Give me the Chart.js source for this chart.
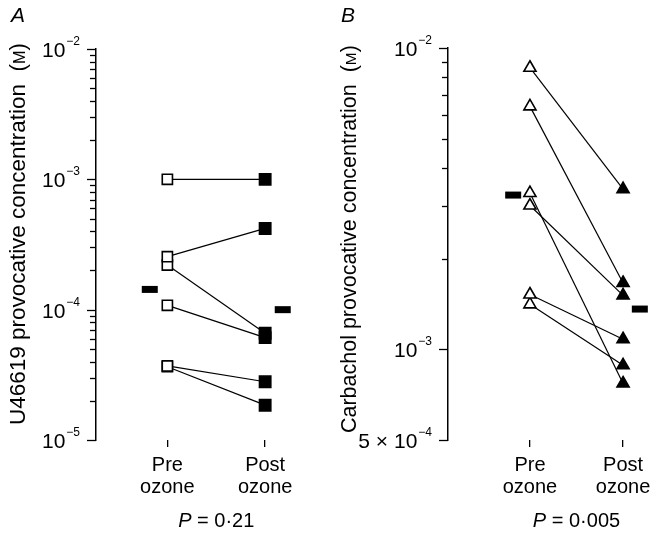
<!DOCTYPE html>
<html>
<head>
<meta charset="utf-8">
<script src="https://cdn.jsdelivr.net/npm/chart.js@4.4.1/dist/chart.umd.min.js"></script>
<style>
  body { margin: 0; background: #fff; }
  #wrap { position: relative; width: 666px; height: 540px; }
  #chartA { position: absolute; left: 0; top: 0; }
  #chartB { position: absolute; left: 330px; top: 0; }
</style>
</head>
<body>
<div id="wrap">
  <canvas id="chartA" width="330" height="540"></canvas>
  <canvas id="chartB" width="336" height="540"></canvas>
</div>
<script>
// x categories
const xLabels = [["Pre", "ozone"], ["Post", "ozone"]];

// Panel A: U46619 (M), one pair per animal
const u46619Pre = [1.0e-3, 2.55e-4, 2.2e-4, 1.08e-4, 3.7e-5, 3.65e-5];
const u46619Post = [1.0e-3, 4.2e-4, 6.6e-5, 6.1e-5, 2.8e-5, 1.85e-5];
const u46619Mean = [1.43e-4, 1.0e-4];

// Panel B: carbachol (M)
const carbPre = [8.6e-3, 6.4e-3, 3.3e-3, 3.0e-3, 1.52e-3, 1.41e-3];
const carbPost = [3.4e-3, 1.66e-3, 0.77e-3, 1.51e-3, 1.08e-3, 0.885e-3];
const carbMean = [3.25e-3, 1.36e-3];

// y tick labels
const ticksA = [1e-2, 1e-3, 1e-4, 1e-5];
const tickBaseA = ["10", "10", "10", "10"];
const tickExpA = ["\u22122", "\u22123", "\u22124", "\u22125"];
const minorA = [];
[1e-5, 1e-4, 1e-3].forEach(d => [2, 3, 4, 5, 6, 7, 8, 9].forEach(m => minorA.push(m * d)));

const ticksB = [1e-2, 1e-3, 5e-4];
const tickBaseB = ["10", "10", "5 \u00d7 10"];
const tickExpB = ["\u22122", "\u22123", "\u22124"];
const minorB = [2e-3, 3e-3, 4e-3, 5e-3, 6e-3, 7e-3, 8e-3, 9e-3];

const FONT = '"Liberation Sans", Arial, sans-serif';
const MEAN_OFFSET = 0.18;

// axis ticks, tick labels, titles and panel letters
const panelDecor = {
  id: "panelDecor",
  afterDraw(chart, args, o) {
    const ctx = chart.ctx;
    const ys = chart.scales.y;
    const xs = chart.scales.x;
    const ax = chart.chartArea.left;
    ctx.save();
    ctx.strokeStyle = "#000";
    ctx.fillStyle = "#000";
    ctx.lineWidth = 1.3;

    const tick = (v, len) => {
      const py = Math.round(ys.getPixelForValue(v)) + 0.5;
      ctx.beginPath();
      ctx.moveTo(ax - len, py);
      ctx.lineTo(ax, py);
      ctx.stroke();
    };
    o.major.forEach(v => tick(v, 9));
    o.minor.forEach(v => tick(v, 6));

    // tick labels with superscript exponents
    ctx.textAlign = "left";
    ctx.textBaseline = "alphabetic";
    o.major.forEach((v, i) => {
      const py = ys.getPixelForValue(v);
      ctx.font = "12px " + FONT;
      const ew = ctx.measureText(o.exps[i]).width;
      ctx.font = "21px " + FONT;
      const bw = ctx.measureText(o.bases[i]).width;
      const right = ax - 16;
      ctx.fillText(o.bases[i], right - ew - 1 - bw, py + 8);
      ctx.font = "12px " + FONT;
      ctx.fillText(o.exps[i], right - ew, py - 4);
    });

    // rotated y title with small-capital M, sized to its length
    const parts = [
      { t: o.title + "  (", k: 1 },
      { t: "M", k: 0.72 },
      { t: ")", k: 1 }
    ];
    const base = 20;
    let total = 0;
    parts.forEach(p => {
      ctx.font = (base * p.k) + "px " + FONT;
      total += ctx.measureText(p.t).width;
    });
    const size = base * o.titleLen / total;
    ctx.save();
    ctx.translate(o.titleX, o.titleCY);
    ctx.rotate(-Math.PI / 2);
    let cx = -o.titleLen / 2;
    parts.forEach(p => {
      ctx.font = (size * p.k) + "px " + FONT;
      ctx.fillText(p.t, cx, 0);
      cx += ctx.measureText(p.t).width;
    });
    ctx.restore();

    // panel letter
    ctx.font = "italic 21px " + FONT;
    ctx.fillText(o.letter, 11, 22);

    // P value under the x labels
    ctx.font = "italic 20px " + FONT;
    const pw = ctx.measureText("P").width;
    ctx.font = "20px " + FONT;
    const rest = " = " + o.p;
    const rw = ctx.measureText(rest).width;
    const px = xs.getPixelForValue(1.5) - (pw + rw) / 2;
    ctx.font = "italic 20px " + FONT;
    ctx.fillText("P", px, 527);
    ctx.font = "20px " + FONT;
    ctx.fillText(rest, px + pw, 527);
    ctx.restore();
  }
};

function buildPanel(canvasId, pre, post, mean, cfg) {
  const datasets = pre.map((v, i) => ({
    data: [{ x: 1, y: v }, { x: 2, y: post[i] }],
    showLine: true,
    borderColor: "#000",
    borderWidth: 1.2,
    pointStyle: cfg.marker,
    pointRadius: cfg.radius,
    pointBorderWidth: 1.6,
    pointBorderColor: "#000",
    pointBackgroundColor: ["#fff", "#000"],
    clip: false
  }));
  datasets.push({
    data: [
      { x: 1 - MEAN_OFFSET, y: mean[0] },
      { x: 2 + MEAN_OFFSET, y: mean[1] }
    ],
    showLine: false,
    pointStyle: "line",
    pointRadius: 8,
    pointBorderWidth: 7,
    pointBorderColor: "#000",
    clip: false
  });

  new Chart(document.getElementById(canvasId), {
    type: "scatter",
    data: { datasets },
    plugins: [panelDecor],
    options: {
      responsive: false,
      animation: false,
      events: [],
      layout: { padding: { left: 0, top: cfg.top, right: cfg.right, bottom: 0 } },
      plugins: {
        legend: { display: false },
        tooltip: { enabled: false },
        panelDecor: cfg.decor
      },
      scales: {
        x: {
          type: "linear",
          min: cfg.xMin,
          max: cfg.xMax,
          afterBuildTicks: s => { s.ticks = [{ value: 1 }, { value: 2 }]; },
          afterFit: s => { s.height = 100; },
          border: { display: false },
          grid: {
            display: true,
            drawOnChartArea: false,
            tickLength: 7,
            color: "#000",
            lineWidth: 1.3
          },
          ticks: {
            color: "#000",
            padding: 7,
            maxRotation: 0,
            autoSkip: false,
            font: { family: FONT, size: 20, lineHeight: 1.1 },
            callback: v => xLabels[v - 1]
          }
        },
        y: {
          type: "logarithmic",
          min: cfg.yMin,
          max: cfg.yMax,
          afterFit: s => { s.width = cfg.axisX; },
          ticks: { display: false },
          grid: { display: false },
          border: { display: true, color: "#000", width: 1.5 }
        }
      }
    }
  });
}

buildPanel("chartA", u46619Pre, u46619Post, u46619Mean, {
  marker: "rect",
  radius: [7.2, 8],
  top: 49,
  right: 10,
  axisX: 96,
  xMin: 0.27,
  xMax: 2.51,
  yMin: 1e-5,
  yMax: 1e-2,
  decor: {
    major: ticksA, minor: minorA, bases: tickBaseA, exps: tickExpA,
    title: "U46619 provocative concentration",
    titleLen: 382, titleX: 25, titleCY: 234,
    letter: "A", p: "0\u00b721"
  }
});

buildPanel("chartB", carbPre, carbPost, carbMean, {
  marker: "triangle",
  radius: 7,
  top: 48,
  right: 0,
  axisX: 118,
  xMin: 0.12,
  xMax: 2.30,
  yMin: 5e-4,
  yMax: 1e-2,
  decor: {
    major: ticksB, minor: minorB, bases: tickBaseB, exps: tickExpB,
    title: "Carbachol provocative concentration",
    titleLen: 388, titleX: 26, titleCY: 239,
    letter: "B", p: "0\u00b7005"
  }
});
</script>
</body>
</html>
